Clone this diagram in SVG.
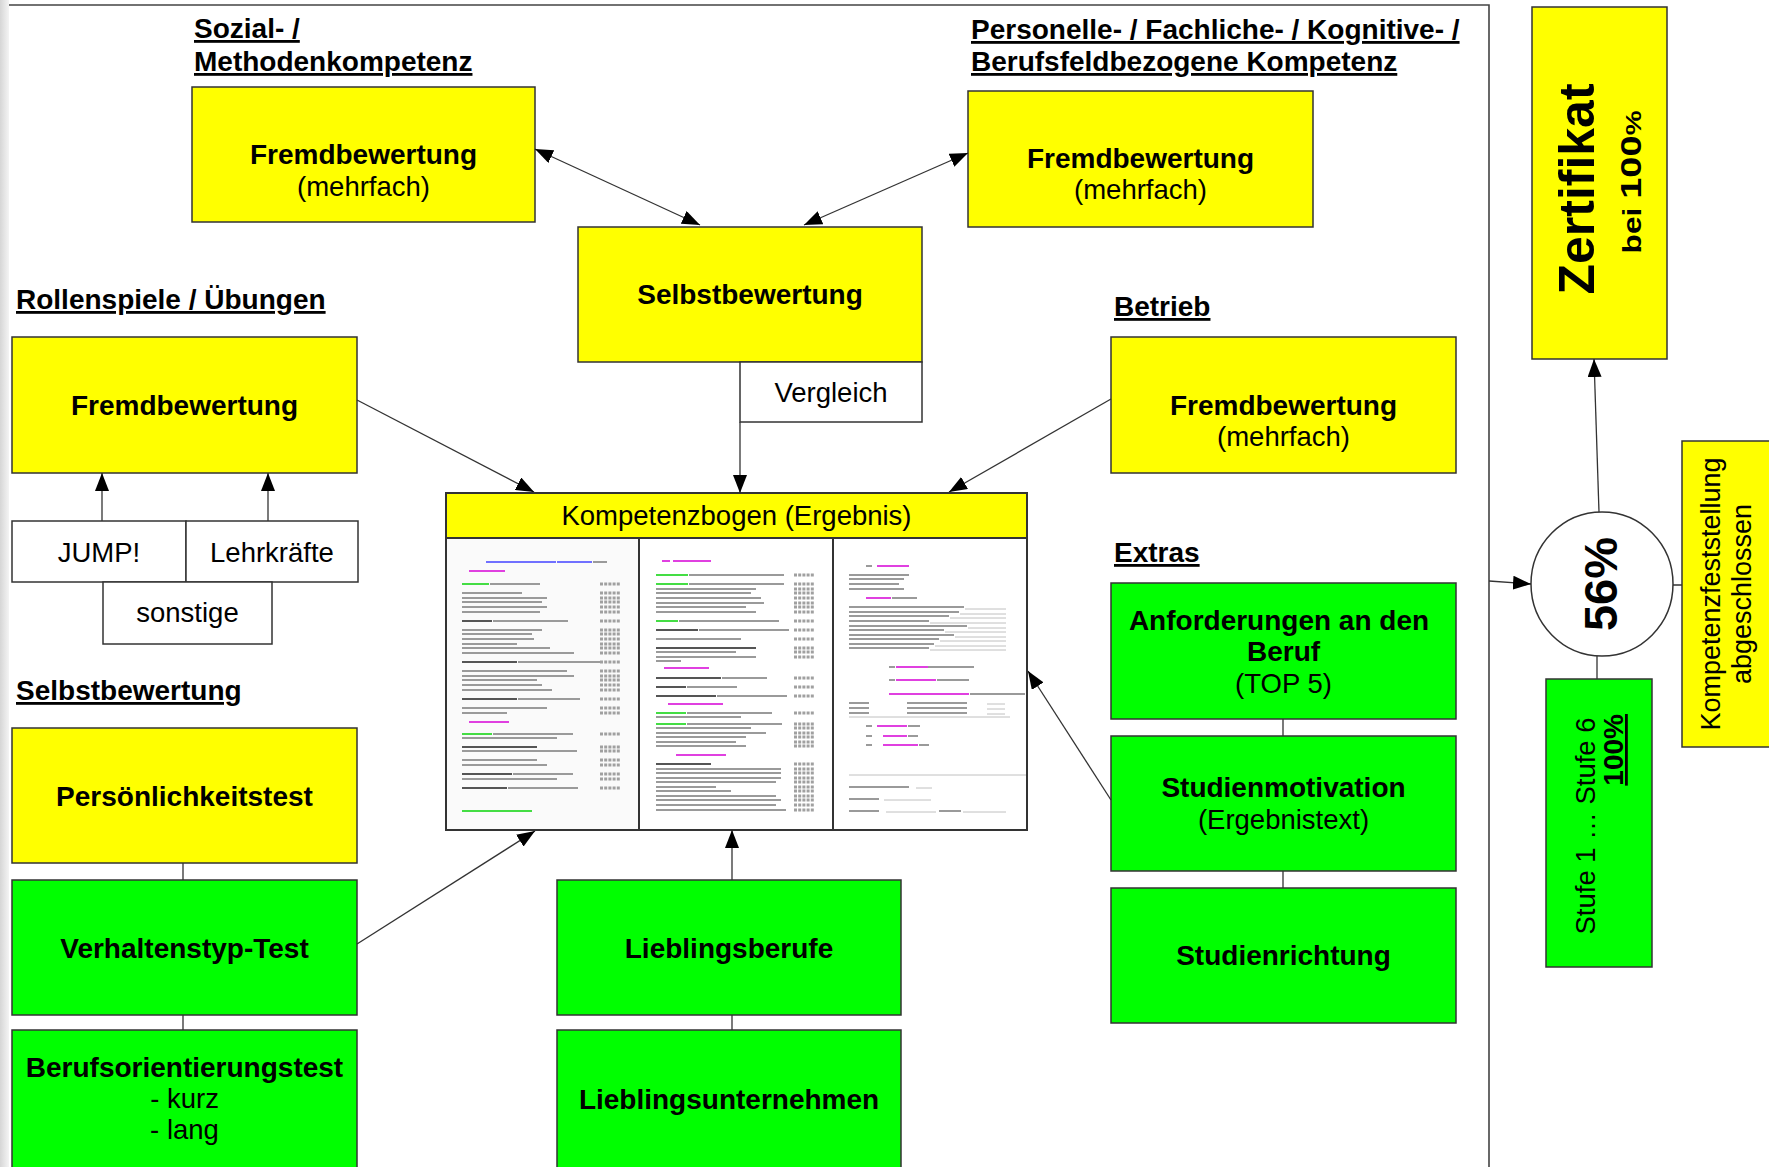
<svg xmlns="http://www.w3.org/2000/svg" width="1769" height="1167" viewBox="0 0 1769 1167">
<defs>
<linearGradient id="shade" x1="0" y1="0" x2="1" y2="0"><stop offset="0" stop-color="#d6d6d6"/><stop offset="1" stop-color="#f4f4f4"/></linearGradient>
<marker id="ah" markerUnits="userSpaceOnUse" markerWidth="18" markerHeight="14" refX="18" refY="7" orient="auto-start-reverse" viewBox="0 0 18 14"><path d="M0,0 L18,7 L0,14 z" fill="#000"/></marker>
<style>
.y{fill:#ffff00;stroke:#333;stroke-width:1.5}
.g{fill:#00ff00;stroke:#333;stroke-width:1.5}
.w{fill:#fff;stroke:#333;stroke-width:1.5}
.b{font-family:"Liberation Sans",Arial,sans-serif;font-weight:bold;font-size:28px;text-anchor:middle;fill:#000}
.r{font-family:"Liberation Sans",Arial,sans-serif;font-size:27.5px;text-anchor:middle;fill:#000}
.h{font-family:"Liberation Sans",Arial,sans-serif;font-weight:bold;font-size:28px;text-decoration:underline;fill:#000}
.c{stroke:#333;stroke-width:1.3;fill:none}
.a{marker-end:url(#ah)}
.aa{marker-start:url(#ah);marker-end:url(#ah)}
.dg{stroke:#9a9a9a;stroke-width:1.8;fill:none}
.dd{stroke:#555;stroke-width:2;fill:none}
.dn{stroke:#44dd44;stroke-width:2;fill:none}
.dm{stroke:#e040e0;stroke-width:2;fill:none}
.db{stroke:#7070ff;stroke-width:1.8;fill:none}
.dt{stroke:#b0b0b0;stroke-width:0.8;fill:none}
.cb{stroke:#a0a0a0;stroke-width:3;stroke-dasharray:3 1.2;fill:none}
</style>
</defs>
<rect x="0" y="0" width="1769" height="1167" fill="#fff"/>
<rect x="0" y="0" width="9" height="1167" fill="url(#shade)"/>
<path d="M9,5 L1489,5 L1489,1167" stroke="#444" stroke-width="1.6" fill="none"/>

<g id="heading-sozial">
<text class="h" x="194" y="38">Sozial- /</text>
<text class="h" x="194" y="71">Methodenkompetenz</text>
</g>
<g id="heading-personelle">
<text class="h" x="971" y="39">Personelle- / Fachliche- / Kognitive- /</text>
<text class="h" x="971" y="71">Berufsfeldbezogene Kompetenz</text>
</g>
<g id="heading-rollenspiele"><text class="h" x="16" y="309">Rollenspiele / Übungen</text></g>
<g id="heading-selbstbewertung"><text class="h" x="16" y="700">Selbstbewertung</text></g>
<g id="heading-betrieb"><text class="h" x="1114" y="316">Betrieb</text></g>
<g id="heading-extras"><text class="h" x="1114" y="562">Extras</text></g>

<g id="node-fremd-sozial">
<rect class="y" x="192" y="87" width="343" height="135"/>
<text class="b" x="363.5" y="164">Fremdbewertung</text>
<text class="r" x="363.5" y="196">(mehrfach)</text>
</g>
<g id="node-fremd-personelle">
<rect class="y" x="968" y="91" width="345" height="136"/>
<text class="b" x="1140.5" y="168">Fremdbewertung</text>
<text class="r" x="1140.5" y="199">(mehrfach)</text>
</g>
<g id="node-selbstbewertung">
<rect class="y" x="578" y="227" width="344" height="135"/>
<text class="b" x="750" y="304">Selbstbewertung</text>
</g>
<g id="node-vergleich">
<rect class="w" x="740" y="362" width="182" height="60"/>
<text class="r" x="831" y="402">Vergleich</text>
</g>
<g id="node-fremd-rollenspiele">
<rect class="y" x="12" y="337" width="345" height="136"/>
<text class="b" x="184.5" y="415">Fremdbewertung</text>
</g>
<g id="node-jump">
<rect class="w" x="12" y="521" width="174" height="61"/>
<text class="r" x="99" y="562">JUMP!</text>
</g>
<g id="node-lehrkraefte">
<rect class="w" x="186" y="521" width="172" height="61"/>
<text class="r" x="272" y="562">Lehrkräfte</text>
</g>
<g id="node-sonstige">
<rect class="w" x="103" y="582" width="169" height="62"/>
<text class="r" x="187.5" y="622">sonstige</text>
</g>
<g id="node-persoenlichkeitstest">
<rect class="y" x="12" y="728" width="345" height="135"/>
<text class="b" x="184.5" y="806">Persönlichkeitstest</text>
</g>
<g id="node-verhaltenstyp">
<rect class="g" x="12" y="880" width="345" height="135"/>
<text class="b" x="184.5" y="958">Verhaltenstyp-Test</text>
</g>
<g id="node-berufsorientierung">
<rect class="g" x="12" y="1030" width="345" height="150"/>
<text class="b" x="184.5" y="1077">Berufsorientierungstest</text>
<text class="r" x="184.5" y="1108">- kurz</text>
<text class="r" x="184.5" y="1139">- lang</text>
</g>

<g id="node-kompetenzbogen">
<rect x="446" y="493" width="581" height="337" fill="#fff" stroke="#333" stroke-width="2"/>
<rect x="447" y="539" width="192" height="290" fill="#fafafa"/>
<rect class="y" x="446" y="493" width="581" height="45" style="stroke-width:2"/>
<text class="r" x="736.5" y="525">Kompetenzbogen (Ergebnis)</text>
<path d="M639,538 L639,830 M833,538 L833,830" stroke="#333" stroke-width="2"/>
<path class="db" d="M486 562h70M557 562h35"/>
<path class="dm" d="M469 571h36M469 722h40M662 561h8M673 561h38M664 668h45M668 704h55M676 755h50M877 566h32M866 598h25M896 667h32M896 680h40M889 694h80M877 726h30M883 736h24M883 745h35"/>
<path class="dn" d="M462 584h27M462 734h30M462 811h70M656 575h32M656 584h32M656 621h22M656 713h30M656 724h30"/>
<path class="dd" d="M462 621h30M462 662h55M462 699h55M462 747h75M462 774h50M462 788h45M656 630h42M656 648h100M656 678h65M656 687h30M656 696h60M656 764h55"/>
<path class="dg" d="M593 562h14M490 584h50M462 593h60M462 598h85M462 602h80M462 607h85M462 612h78M493 621h75M462 630h80M462 634h70M462 639h72M462 644h55M462 648h88M462 653h112M518 662h85M462 671h105M462 676h112M462 680h75M462 685h80M462 690h90M518 699h62M462 708h85M462 713h45M493 734h80M462 738h95M462 751h115M462 760h75M462 765h85M513 774h60M462 779h95M508 788h70M689 575h95M689 584h95M656 589h100M656 593h95M656 598h105M656 603h108M656 607h90M656 612h100M679 621h100M699 630h90M656 639h85M656 652h80M656 657h100M656 661h25M722 678h45M687 687h50M717 696h70M687 713h85M656 717h85M687 724h95M656 728h95M656 733h110M656 737h90M656 742h80M656 746h90M656 769h125M656 773h125M656 778h125M656 782h120M656 787h60M656 791h75M656 796h120M656 800h125M656 805h120M656 810h130M866 566h6M849 575h60M849 579h55M849 584h50M849 589h55M892 598h25M849 607h115M849 612h110M849 616h100M849 621h80M849 626h118M849 630h95M849 635h105M849 639h90M849 644h85M849 648h80M889 667h6M928 667h46M889 680h6M937 680h32M970 694h55M849 703h20M849 708h20M849 713h20M907 703h60M907 708h60M907 713h60M866 726h6M908 726h12M866 736h6M908 736h10M866 745h6M919 745h10M849 787h60M849 799h30M849 811h30M939 811h22"/>
<path class="dt" d="M965 609h41M960 614h46M950 618h56M930 623h76M968 628h38M945 632h61M955 637h51M940 641h66M935 646h71M930 650h76M987 704h18M987 709h18M987 714h18M849 717h161M849 775h177M916 788h16M884 800h47M886 812h50M963 812h43"/>
<path class="cb" d="M600 584h20M600 593h20M600 598h20M600 602h20M600 607h20M600 612h20M600 621h20M600 630h20M600 634h20M600 639h20M600 644h20M600 648h20M600 653h20M600 662h20M600 671h20M600 676h20M600 680h20M600 685h20M600 690h20M600 699h20M600 708h20M600 713h20M600 734h20M600 747h20M600 751h20M600 760h20M600 765h20M600 774h20M600 779h20M600 788h20M794 575h20M794 584h20M794 589h20M794 593h20M794 598h20M794 603h20M794 607h20M794 612h20M794 621h20M794 630h20M794 639h20M794 648h20M794 652h20M794 657h20M794 678h20M794 687h20M794 696h20M794 713h20M794 724h20M794 728h20M794 733h20M794 737h20M794 742h20M794 746h20M794 764h20M794 769h20M794 773h20M794 778h20M794 782h20M794 787h20M794 791h20M794 796h20M794 800h20M794 805h20M794 810h20"/>
</g>

<g id="node-lieblingsberufe">
<rect class="g" x="557" y="880" width="344" height="135"/>
<text class="b" x="729" y="958">Lieblingsberufe</text>
</g>
<g id="node-lieblingsunternehmen">
<rect class="g" x="557" y="1030" width="344" height="150"/>
<text class="b" x="729" y="1109">Lieblingsunternehmen</text>
</g>
<g id="node-fremd-betrieb">
<rect class="y" x="1111" y="337" width="345" height="136"/>
<text class="b" x="1283.5" y="415">Fremdbewertung</text>
<text class="r" x="1283.5" y="446">(mehrfach)</text>
</g>
<g id="node-anforderungen">
<rect class="g" x="1111" y="583" width="345" height="136"/>
<text class="b" x="1279" y="630">Anforderungen an den</text>
<text class="b" x="1283.5" y="661">Beruf</text>
<text class="r" x="1283.5" y="693">(TOP 5)</text>
</g>
<g id="node-studienmotivation">
<rect class="g" x="1111" y="736" width="345" height="135"/>
<text class="b" x="1283.5" y="797">Studienmotivation</text>
<text class="r" x="1283.5" y="829">(Ergebnistext)</text>
</g>
<g id="node-studienrichtung">
<rect class="g" x="1111" y="888" width="345" height="135"/>
<text class="b" x="1283.5" y="965">Studienrichtung</text>
</g>

<g id="node-zertifikat">
<rect class="y" x="1532" y="7" width="135" height="352"/>
<text class="b" transform="translate(1594,189) rotate(-90)" style="font-size:50px">Zertifikat</text>
<text class="b" transform="translate(1641,182) rotate(-90)" textLength="143" lengthAdjust="spacingAndGlyphs"><tspan style="font-size:25px">bei </tspan><tspan style="font-size:30px">100</tspan><tspan style="font-size:22px">%</tspan></text>
</g>
<g id="node-prozent">
<ellipse cx="1602" cy="584" rx="71" ry="72" fill="#fff" stroke="#333" stroke-width="1.5"/>
<text class="b" transform="translate(1617,584) rotate(-90)" style="font-size:47px">56%</text>
</g>
<g id="node-stufe">
<rect class="g" x="1546" y="679" width="106" height="288"/>
<text class="r" transform="translate(1595,826) rotate(-90)">Stufe 1 … Stufe 6</text>
<text class="b" transform="translate(1623,714) rotate(-90)" style="text-anchor:end;text-decoration:underline">100%</text>
</g>
<g id="node-abgeschlossen">
<rect class="y" x="1682" y="441" width="95" height="306"/>
<text class="r" transform="translate(1720,594) rotate(-90)" style="font-size:27px">Kompetenzfeststellung</text>
<text class="r" transform="translate(1751,594) rotate(-90)" style="font-size:27px">abgeschlossen</text>
</g>

<g id="connectors">
<path class="c aa" d="M535,149 L700,225"/>
<path class="c aa" d="M968,153 L804,225"/>
<path class="c a" d="M740,422 L740,493"/>
<path class="c a" d="M357,400 L534,492"/>
<path class="c a" d="M1111,399 L949,492"/>
<path class="c a" d="M102,521 L102,473"/>
<path class="c a" d="M268,521 L268,473"/>
<path class="c" d="M183,863 L183,880 M183,1015 L183,1030"/>
<path class="c a" d="M357,944 L535,831"/>
<path class="c a" d="M732,880 L732,830"/>
<path class="c" d="M732,1015 L732,1030"/>
<path class="c a" d="M1111,800 L1028,671"/>
<path class="c" d="M1283,719 L1283,736 M1283,871 L1283,888"/>
<path class="c a" d="M1489,581 L1531,584"/>
<path class="c a" d="M1599,512 L1594,359"/>
<path class="c" d="M1597,656 L1597,679 M1673,585 L1682,585"/>
</g>
</svg>
